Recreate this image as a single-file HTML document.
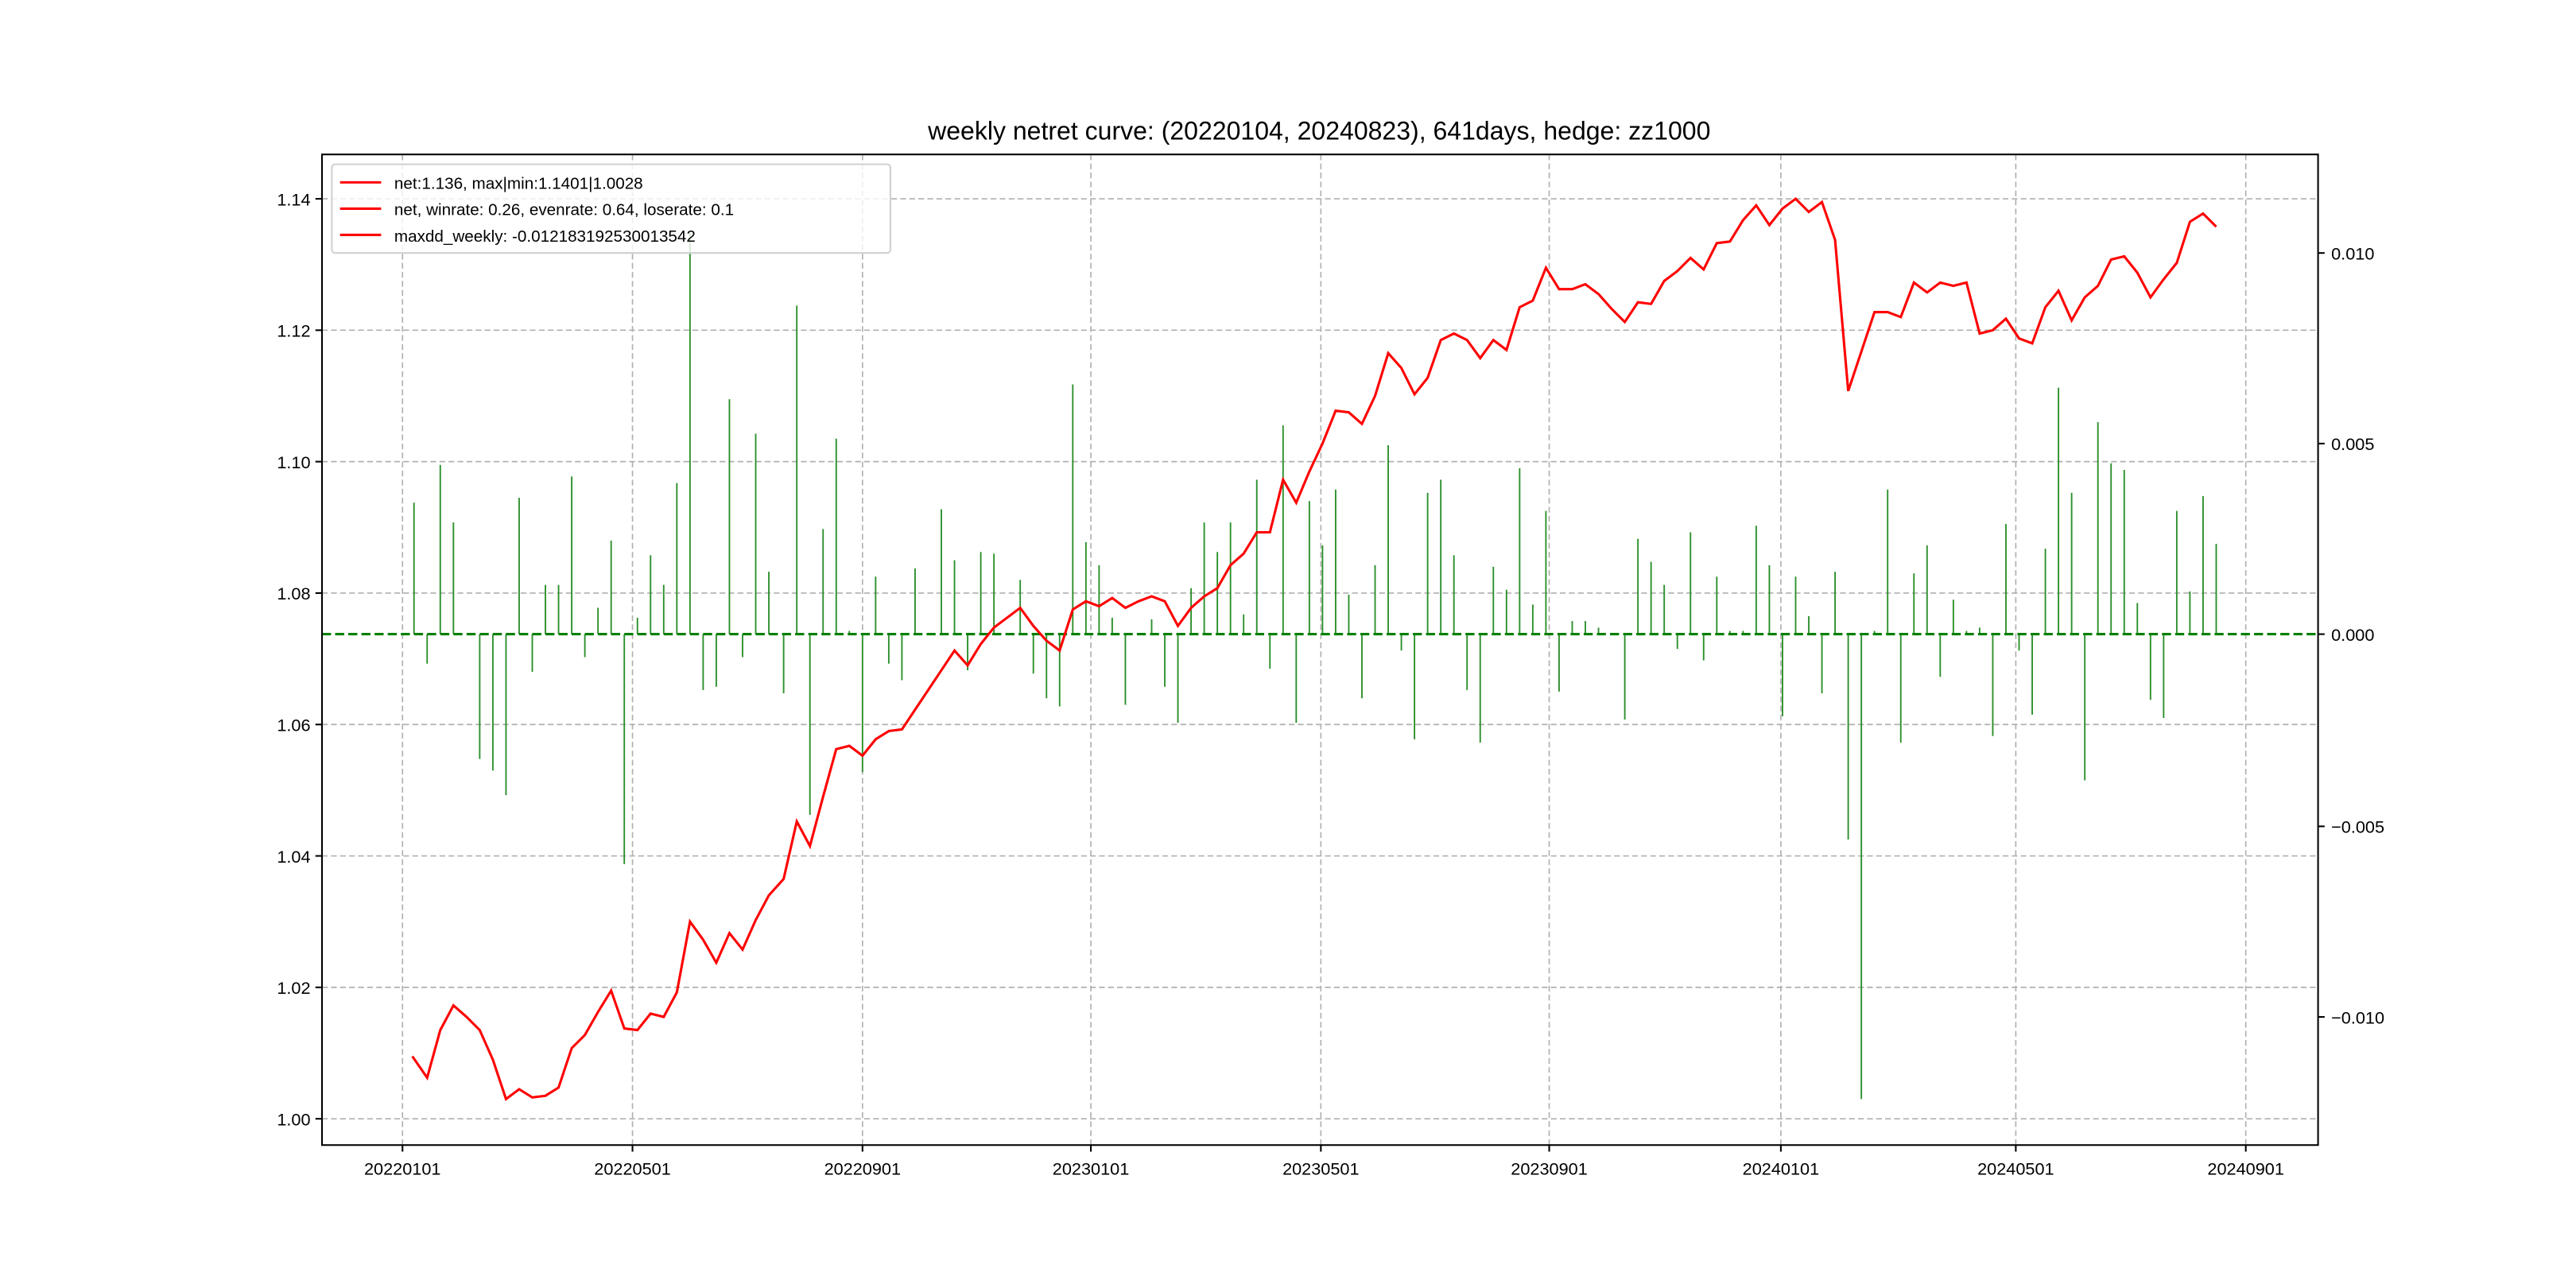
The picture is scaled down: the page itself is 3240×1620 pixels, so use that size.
<!DOCTYPE html>
<html><head><meta charset="utf-8"><style>html,body{margin:0;padding:0;background:#fff}svg{display:block}</style></head><body>
<svg width="3240" height="1620" viewBox="0 0 1568 784" xmlns="http://www.w3.org/2000/svg" font-family="Liberation Sans, WenQuanYi Zen Hei, sans-serif">
<rect width="1568" height="784" fill="#fff"/>
<g stroke="#b0b0b0" stroke-width="0.8" stroke-dasharray="3.5,2">
<line x1="245" y1="94" x2="245" y2="697"/><line x1="385" y1="94" x2="385" y2="697"/><line x1="525" y1="94" x2="525" y2="697"/><line x1="664" y1="94" x2="664" y2="697"/><line x1="804" y1="94" x2="804" y2="697"/><line x1="943" y1="94" x2="943" y2="697"/><line x1="1084" y1="94" x2="1084" y2="697"/><line x1="1227" y1="94" x2="1227" y2="697"/><line x1="1367" y1="94" x2="1367" y2="697"/>
<line x1="196" y1="121" x2="1411" y2="121"/><line x1="196" y1="201" x2="1411" y2="201"/><line x1="196" y1="281" x2="1411" y2="281"/><line x1="196" y1="361" x2="1411" y2="361"/><line x1="196" y1="441" x2="1411" y2="441"/><line x1="196" y1="521" x2="1411" y2="521"/><line x1="196" y1="601" x2="1411" y2="601"/><line x1="196" y1="681" x2="1411" y2="681"/>
</g>
<path fill="none" stroke="#2a8f2a" stroke-width="0.9" d="M252 386V306M260 386V404M268 386V283M276 386V318M292 386V462M300 386V469M308 386V484M316 386V303M324 386V409M332 386V356M340 386V356M348 386V290M356 386V400M364 386V370M372 386V329M380 386V526M388 386V376M396 386V338M404 386V356M412 386V294M420 386V142M428 386V420M436 386V418M444 386V243M452 386V400M460 386V264M468 386V348M477 386V422M485 386V186M493 386V496M501 386V322M509 386V267M517 386V384M525 386V470M533 386V351M541 386V404M549 386V414M557 386V346M573 386V310M581 386V341M589 386V408M597 386V336M605 386V337M621 386V353M629 386V410M637 386V425M645 386V430M653 386V234M661 386V330M669 386V344M677 386V376M685 386V429M701 386V377M709 386V418M717 386V440M725 386V358M733 386V318M741 386V336M749 386V318M757 386V374M765 386V292M773 386V407M781 386V259M789 386V440M797 386V305M805 386V332M813 386V298M821 386V362M829 386V425M837 386V344M845 386V271M853 386V396M861 386V450M869 386V300M877 386V292M885 386V338M893 386V420M901 386V452M909 386V345M917 386V359M925 386V285M933 386V368M941 386V311M949 386V421M957 386V378M965 386V378M973 386V382M989 386V438M997 386V328M1005 386V342M1013 386V356M1021 386V395M1029 386V324M1037 386V402M1045 386V351M1053 386V384M1061 386V384M1069 386V320M1077 386V344M1085 386V436M1093 386V351M1101 386V375M1109 386V422M1117 386V348M1125 386V511M1133 386V669M1141 386V384M1149 386V298M1157 386V452M1165 386V349M1173 386V332M1181 386V412M1189 386V365M1197 386V384M1205 386V382M1213 386V448M1221 386V319M1229 386V396M1237 386V435M1245 386V334M1253 386V236M1261 386V300M1269 386V475M1277 386V257M1285 386V282M1293 386V286M1301 386V367M1309 386V426M1317 386V437M1325 386V311M1333 386V360M1341 386V302M1349 386V331"/>
<line x1="196" y1="386" x2="1411" y2="386" stroke="#008000" stroke-width="1.5" stroke-dasharray="5.5,2.5"/>
<polyline fill="none" stroke="#ff0000" stroke-width="1.5" points="251,643 260,656 268,627 276,612 284,619 292,627 300,645 308,669 316,663 324,668 332,667 340,662 348,638 356,630 364,616 372,603 380,626 388,627 396,617 404,619 412,604 420,561 428,572 436,586 444,568 452,578 460,560 468,545 477,535 485,500 493,515 501,485 509,456 517,454 525,460 533,450 541,445 549,444 557,432 565,420 573,408 581,396 589,405 597,392 605,382 613,376 621,370 629,381 637,390 645,396 653,371 661,366 669,369 677,364 685,370 693,366 701,363 709,366 717,381 725,370 733,363 741,358 749,344 757,337 765,324 773,324 781,292 789,306 797,287 805,270 813,250 821,251 829,258 837,241 845,215 853,224 861,240 869,230 877,207 885,203 893,207 901,218 909,207 917,213 925,187 933,183 941,163 949,176 957,176 965,173 973,179 981,188 989,196 997,184 1005,185 1013,171 1021,165 1029,157 1037,164 1045,148 1053,147 1061,134 1069,125 1077,137 1085,127 1093,121 1101,129 1109,123 1117,146 1125,238 1133,214 1141,190 1149,190 1157,193 1165,172 1173,178 1181,172 1189,174 1197,172 1205,203 1213,201 1221,194 1229,206 1237,209 1245,187 1253,177 1261,195 1269,181 1277,174 1285,158 1293,156 1301,166 1309,181 1317,170 1325,160 1333,135 1341,130 1349,138"/>
<rect x="196" y="94" width="1215" height="603" fill="none" stroke="#000" stroke-width="1"/>
<g stroke="#000" stroke-width="1">
<line x1="245" y1="697" x2="245" y2="701"/><line x1="385" y1="697" x2="385" y2="701"/><line x1="525" y1="697" x2="525" y2="701"/><line x1="664" y1="697" x2="664" y2="701"/><line x1="804" y1="697" x2="804" y2="701"/><line x1="943" y1="697" x2="943" y2="701"/><line x1="1084" y1="697" x2="1084" y2="701"/><line x1="1227" y1="697" x2="1227" y2="701"/><line x1="1367" y1="697" x2="1367" y2="701"/>
<line x1="192" y1="121" x2="196" y2="121"/><line x1="192" y1="201" x2="196" y2="201"/><line x1="192" y1="281" x2="196" y2="281"/><line x1="192" y1="361" x2="196" y2="361"/><line x1="192" y1="441" x2="196" y2="441"/><line x1="192" y1="521" x2="196" y2="521"/><line x1="192" y1="601" x2="196" y2="601"/><line x1="192" y1="681" x2="196" y2="681"/>
<line x1="1411" y1="154" x2="1415" y2="154"/><line x1="1411" y1="270" x2="1415" y2="270"/><line x1="1411" y1="386" x2="1415" y2="386"/><line x1="1411" y1="503" x2="1415" y2="503"/><line x1="1411" y1="619" x2="1415" y2="619"/>
</g>
<g font-size="10.5" fill="#000" text-anchor="middle">
<text x="245" y="715">20220101</text><text x="385" y="715">20220501</text><text x="525" y="715">20220901</text><text x="664" y="715">20230101</text><text x="804" y="715">20230501</text><text x="943" y="715">20230901</text><text x="1084" y="715">20240101</text><text x="1227" y="715">20240501</text><text x="1367" y="715">20240901</text>
</g>
<g font-size="10.5" fill="#000" text-anchor="end">
<text x="189" y="125">1.14</text><text x="189" y="205">1.12</text><text x="189" y="285">1.10</text><text x="189" y="365">1.08</text><text x="189" y="445">1.06</text><text x="189" y="525">1.04</text><text x="189" y="605">1.02</text><text x="189" y="685">1.00</text>
</g>
<g font-size="10.5" fill="#000">
<text x="1419" y="158">0.010</text><text x="1419" y="274">0.005</text><text x="1419" y="390">0.000</text><text x="1419" y="507">−0.005</text><text x="1419" y="623">−0.010</text>
</g>
<text x="803" y="85" font-size="15.5" text-anchor="middle">weekly netret curve: (20220104, 20240823), 641days, hedge: zz1000</text>
<rect x="202" y="100" width="340" height="54" rx="2" fill="#fff" fill-opacity="0.8" stroke="#d0d0d0" stroke-width="1"/>
<g stroke="#ff0000" stroke-width="1.5"><line x1="207" y1="111" x2="232" y2="111"/><line x1="207" y1="127" x2="232" y2="127"/><line x1="207" y1="143" x2="232" y2="143"/></g>
<g font-size="10" fill="#000"><text x="240" y="115">net:1.136, max|min:1.1401|1.0028</text><text x="240" y="131">net, winrate: 0.26, evenrate: 0.64, loserate: 0.1</text><text x="240" y="147">maxdd_weekly: -0.012183192530013542</text></g>
</svg>
</body></html>
